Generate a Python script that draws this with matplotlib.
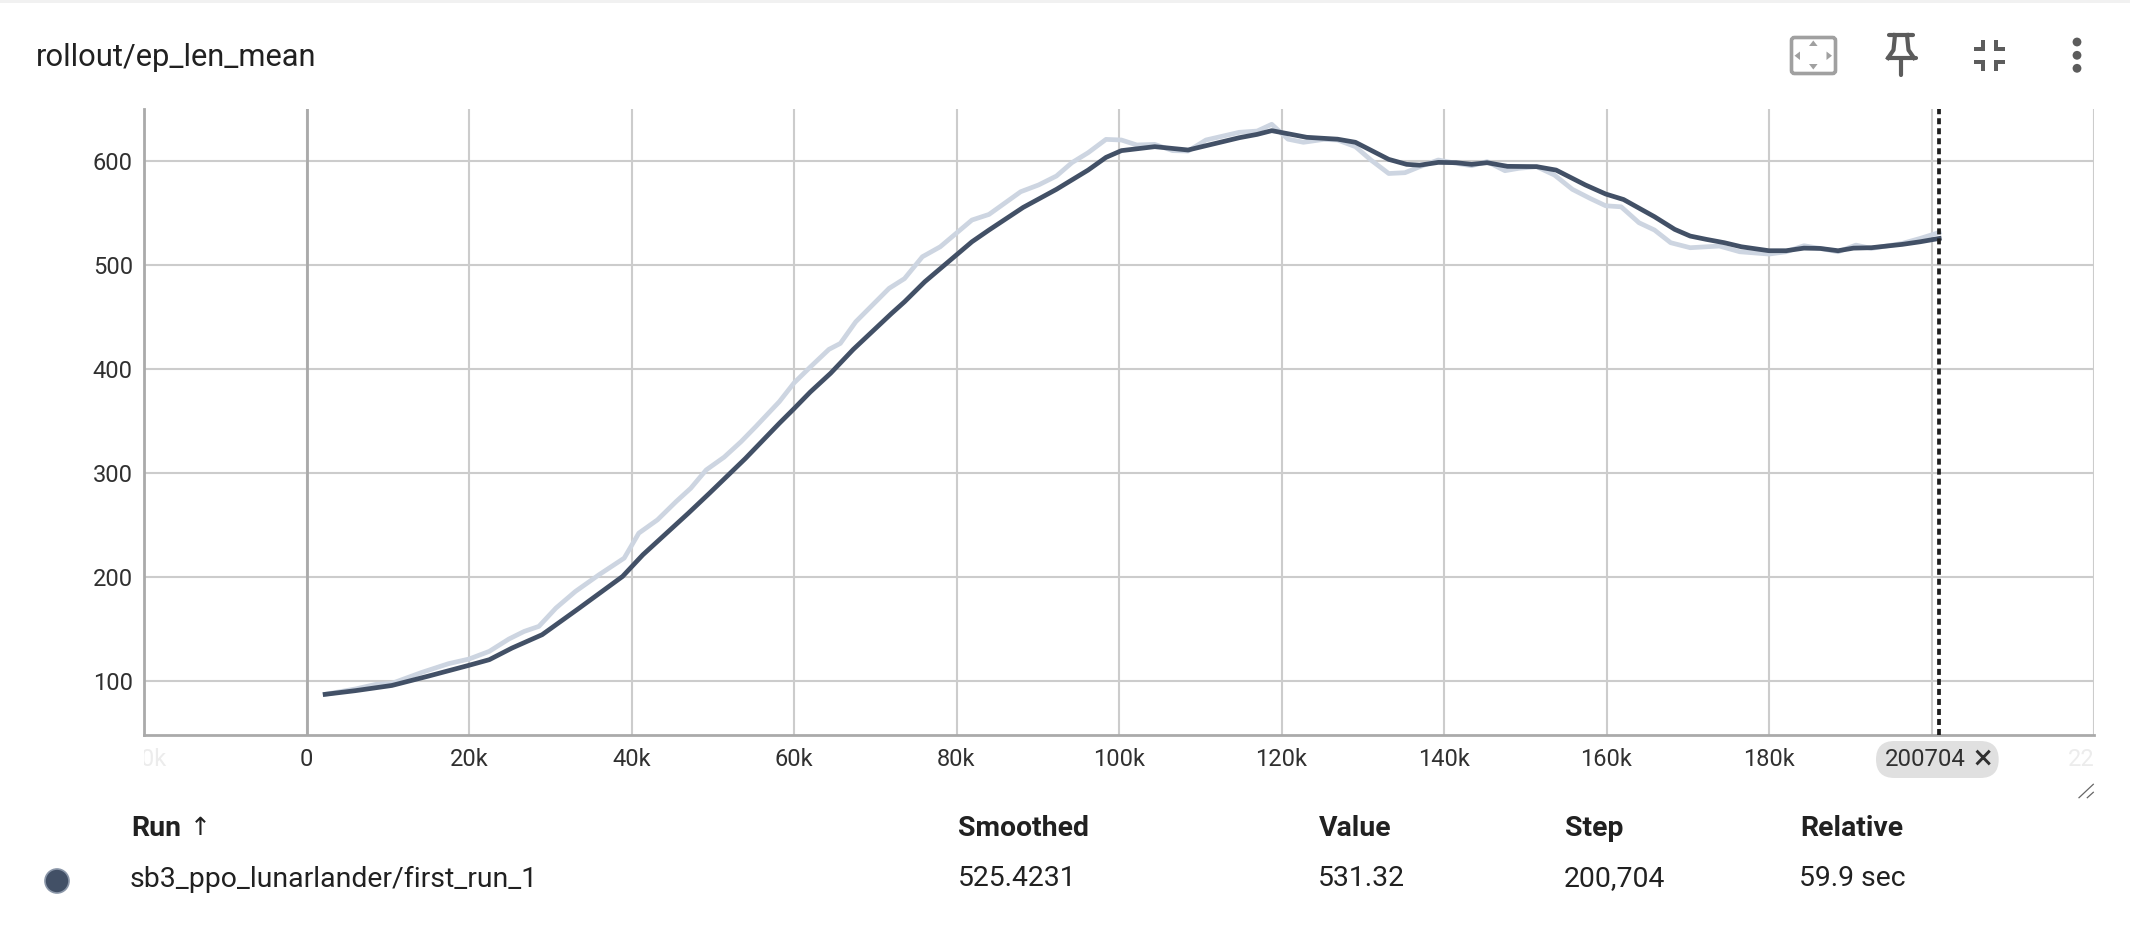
import matplotlib
matplotlib.use('Agg')
import matplotlib.pyplot as plt
from matplotlib.patches import FancyBboxPatch, Polygon, Rectangle, Circle, Ellipse
from matplotlib.transforms import Bbox

plt.rcParams['font.family'] = ['Roboto', 'DejaVu Sans']

#----------------------------------------------------------------------
# Data
#----------------------------------------------------------------------
raw_step = [2.3, 6.0, 8.5, 10.5, 14.2, 17.5, 20.0, 22.5, 24.9, 26.8, 28.6, 30.7, 33.1, 36.0, 39.1, 40.9,
            43.2, 45.5, 47.3, 49.2, 51.4, 53.5, 55.3, 58.2, 60.0, 62.0, 64.3, 65.7, 67.6, 71.7, 73.6, 75.8,
            78.0, 81.9, 84.0, 87.9, 90.1, 92.3, 94.2, 96.2, 98.4, 100.3, 102.2, 104.4, 106.6, 108.5, 110.7,
            114.8, 117.0, 118.8, 120.8, 122.7, 125.2, 126.9, 129.1, 131.0, 133.2, 135.2, 137.0, 139.3,
            141.5, 143.4, 145.3, 147.5, 149.2, 151.4, 153.6, 155.8, 158.0, 159.9, 161.8, 164.0, 165.9,
            167.9, 170.3, 173.9, 176.4, 180.0, 182.1, 184.3, 186.3, 188.5, 190.7, 192.6, 196.4, 198.6, 200.95]
raw_value = [87.5, 92.6, 97, 98, 108.6, 117, 121.4, 128.8, 140.6, 148, 152.8, 170.4, 186.4, 202.4, 218.4, 242.4,
             255.2, 272.8, 285.6, 303.2, 315.4, 330.4, 344.8, 368.8, 386.7, 402, 419, 424.7, 445.5, 477.6, 487, 508,
             517.6, 543.3, 548.7, 570.5, 577, 585.6, 598.4, 608, 620.8, 620.2, 615.4, 616, 610, 609.6, 620.2,
             627.6, 628.8, 635.3, 621, 618, 620.8, 620.2, 613.8, 601, 588, 588.8, 594.5, 601,
             597.8, 595.5, 599.4, 590.7, 593, 594.6, 586.5, 572.8, 564, 557, 556, 540.7, 533.7,
             521.5, 516.7, 518.3, 512.8, 510.6, 512.8, 518.6, 516, 512.8, 519.2, 516, 520.8, 525.6, 531.3]

smooth_step = [2.3, 6.0, 10.5, 15.0, 20.0, 22.5, 25.3, 29.0, 33.5, 38.9, 41.4, 47.0, 49.6, 54.0, 58.2, 60.0,
               62.0, 64.5, 67.3, 72.0, 73.6, 76.1, 81.9, 84.0, 88.2, 92.3, 96.2, 98.4, 100.3, 104.4, 108.5,
               114.8, 117.0, 118.8, 123.1, 126.9, 129.1, 133.2, 135.4, 137.0, 139.3, 141.5, 143.4, 145.3,
               147.8, 151.4, 153.8, 157.4, 159.9, 162.1, 165.9, 168.4, 170.3, 172.3, 174.5, 176.6, 180.0,
               182.1, 184.3, 186.3, 188.5, 190.4, 192.6, 196.4, 198.6, 200.95]
smooth_value = [87.5, 91, 96, 105, 115.4, 120.8, 132, 144.8, 170, 200.8, 221.6, 261.6, 280.8, 314, 348, 362,
                378, 396, 419, 453.5, 464.7, 484, 522.4, 533.7, 555.4, 572.8, 591.3, 603.5, 610, 613.8, 610.6,
                622.4, 625.6, 629.2, 622.8, 621, 618, 601.6, 596.8, 596, 598.7, 598.4, 596.8, 598.4,
                594.9, 594.6, 591.3, 577, 568.3, 563, 546.5, 534.3, 527.9, 524.7, 521.5, 517.6, 513.8,
                513.8, 516.3, 516, 513.8, 516.3, 516.7, 519.9, 522.4, 525.6]

title = 'rollout/ep_len_mean'
x_ticks = [-20, 0, 20, 40, 60, 80, 100, 120, 140, 160, 180, 200, 220]
x_labels = ['-20k', '0', '20k', '40k', '60k', '80k', '100k', '120k', '140k', '160k', '180k', '', '220k']
y_ticks = [100, 200, 300, 400, 500, 600]
cursor_step = 200.95
cursor_label = '200704'
headers = ['Run', 'Smoothed', 'Value', 'Step', 'Relative']
row = ['sb3_ppo_lunarlander/first_run_1', '525.4231', '531.32', '200,704', '59.9 sec']

LINE = '#425066'
FADED = '#cdd5e1'
GRID = '#cccccc'
AXIS = '#aaaaaa'
TEXT = '#212121'
ICON = '#5c5c5c'

W, H = 2130, 932
fig = plt.figure(figsize=(W / 100, H / 100), dpi=100, facecolor='white')

# overlay in pixel coords for the panel around the chart
ui = fig.add_axes([0, 0, 1, 1], zorder=3)
ui.set_xlim(0, W)
ui.set_ylim(H, 0)
ui.axis('off')
ui.patch.set_alpha(0)

#----------------------------------------------------------------------
# Chart
#----------------------------------------------------------------------
ax_l, ax_r, ax_t, ax_b = 144, 2094, 109, 734.7
ax = fig.add_axes([ax_l / W, 1 - ax_b / H, (ax_r - ax_l) / W, (ax_b - ax_t) / H], zorder=2)
ax.set_xlim(-20, 220)
ax.set_ylim(48.7, 650)

ax.set_xticks(x_ticks)
ax.set_xticklabels(x_labels)
ax.set_yticks(y_ticks)
ax.grid(True, color=GRID, linewidth=1.5, zorder=0)
ax.set_axisbelow(True)
ax.tick_params(length=0, labelsize=17, labelcolor='#303030')
ax.tick_params(axis='x', pad=9.5)
ax.tick_params(axis='y', pad=8)

for name in ['top', 'right']:
    ax.spines[name].set_visible(False)
for name in ['left', 'bottom']:
    ax.spines[name].set_color(AXIS)
    ax.spines[name].set_linewidth(2)
ax.axvline(0, color=AXIS, linewidth=2, zorder=1)

ax.plot(raw_step, raw_value, color=FADED, linewidth=3.4, solid_joinstyle='round', zorder=3)
ax.plot(smooth_step, smooth_value, color=LINE, linewidth=3.4, solid_joinstyle='round', zorder=4)
ax.axvline(cursor_step, color='#1c1c1c', linewidth=2.7, linestyle=(0, (1.6, 1.07)), zorder=5)

# the end labels fade out and get cut at the plot edge
clip = Bbox([[ax_l, 0], [ax_r, H]])
for lab, tick in zip(ax.get_xticklabels(), x_ticks):
    if tick in (-20, 220):
        lab.set_color('#ececec')
        lab.set_clip_box(clip)
        lab.set_clip_on(True)

#----------------------------------------------------------------------
# Card, title, icons
#----------------------------------------------------------------------
ui.add_patch(Rectangle((0, 0), W, 3, facecolor='#f1f1f1', edgecolor='none'))
ui.text(36, 57, title, fontsize=22.2, color=TEXT, va='center', ha='left')

# fit to screen icon
ui.add_patch(FancyBboxPatch((1791.5, 37.5), 44, 36, boxstyle='round,pad=0,rounding_size=3',
                            facecolor='none', edgecolor='#a0a0a0', linewidth=2.6))
for tri in [[(1813.3, 40.5), (1809, 46), (1817.6, 46)],
            [(1813.3, 69.5), (1809, 64), (1817.6, 64)],
            [(1794.5, 55.7), (1800, 51.5), (1800, 60)],
            [(1832, 55.7), (1826.5, 51.5), (1826.5, 60)]]:
    ui.add_patch(Polygon(tri, closed=True, facecolor='#a0a0a0', edgecolor='none'))

# pin icon
ui.plot([1889, 1913], [35, 35], color=ICON, linewidth=3.0, solid_capstyle='round')
ui.plot([1888, 1916], [58, 58], color=ICON, linewidth=3.0, solid_capstyle='round')
ui.plot([1895, 1893.5, 1888], [35, 50, 58], color=ICON, linewidth=3.0)
ui.plot([1907, 1908.5, 1914], [35, 50, 58], color=ICON, linewidth=3.0)
ui.plot([1901, 1901], [58, 75], color=ICON, linewidth=3.0, solid_capstyle='round')

# collapse icon
for rect in [(1974, 46.7, 11, 4), (1981, 40, 4, 10.7), (1994, 46.7, 11, 4), (1994, 40, 4, 10.7),
             (1974, 60, 11, 4), (1981, 60, 4, 10.7), (1994, 60, 11, 4), (1994, 60, 4, 10.7)]:
    ui.add_patch(Rectangle(rect[:2], rect[2], rect[3], facecolor=ICON, edgecolor='none'))

# more menu
for cy in [42, 55.3, 68.3]:
    ui.add_patch(Circle((2077, cy), 4.4, facecolor=ICON, edgecolor='none'))

# cursor chip
ui.add_patch(FancyBboxPatch((1876, 741), 122.7, 37, boxstyle='round,pad=0,rounding_size=18.5',
                            facecolor='#e0e0e0', edgecolor='none'))
ui.text(1885, 759, cursor_label, fontsize=17.3, color='#303030', va='center', ha='left')
ui.text(1983, 759, '\u00d7', fontsize=25, color='#303030', va='center', ha='center')

# resize handle
ui.plot([2079, 2093.3], [797.7, 784.3], color='#666666', linewidth=0.9)
ui.plot([2087.3, 2093.3], [797.7, 792.3], color='#666666', linewidth=0.9)

#----------------------------------------------------------------------
# Table
#----------------------------------------------------------------------
header_x = [131, 958, 1319, 1565, 1800]
row_x = [129.5, 958, 1318, 1564, 1799]
for x, label in zip(header_x, headers):
    ui.text(x, 828, label, fontsize=20.4, fontweight='bold', color=TEXT, va='center', ha='left')
ui.text(190, 828, '\u2191', fontsize=18, color=TEXT, va='center', ha='left', family=['DejaVu Sans'])

for x, label in zip(row_x, row):
    ui.text(x, 879, label, fontsize=20.4, color=TEXT, va='center', ha='left')
ui.add_patch(Ellipse((57, 881), 24, 24, facecolor=LINE, edgecolor='#8a96a8', linewidth=1.2))

fig.savefig('out.png', dpi=100, facecolor='white')
